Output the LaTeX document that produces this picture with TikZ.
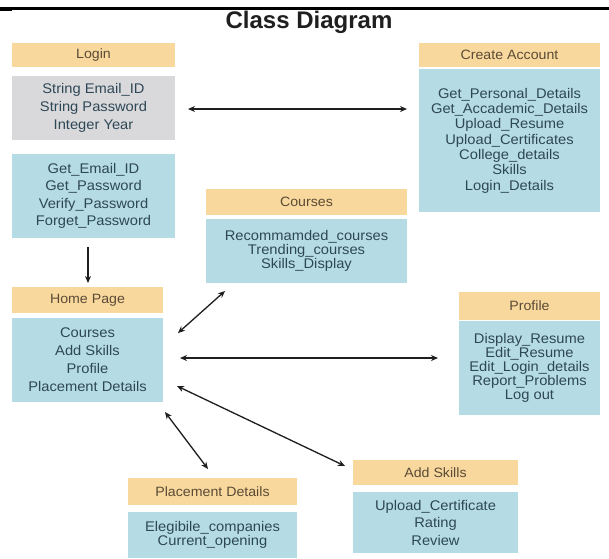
\documentclass[tikz,border=0pt]{standalone}
\usepackage{fontspec}
\setmainfont{Liberation Sans}
\newfontfamily\boxfont[FakeStretch=1.05]{Liberation Sans}
\usetikzlibrary{arrows.meta}
\definecolor{hdrfill}{HTML}{F9D89E}
\definecolor{bodyfill}{HTML}{B5DCE4}
\definecolor{attrfill}{HTML}{D9D9DB}
\definecolor{hdrtext}{HTML}{5A4B35}
\definecolor{bodytext}{HTML}{2E4756}
\definecolor{arrowcol}{HTML}{1E1E1E}
\begin{document}
\begin{tikzpicture}[x=1pt,y=-1pt,
  box/.style={inner sep=0pt, outer sep=0pt, align=center, anchor=center},
  hdr/.style={box, fill=hdrfill, text=hdrtext, font=\boxfont\fontsize{13.5}{16}\selectfont},
  body/.style={box, fill=bodyfill, text=bodytext, font=\boxfont\fontsize{14}{#1}\selectfont},
  attr/.style={box, fill=attrfill, text=bodytext, font=\boxfont\fontsize{14}{#1}\selectfont},
  link/.style={draw=arrowcol, line width=1.3pt, {Stealth[length=7pt,width=6pt]}-{Stealth[length=7pt,width=6pt]}},
  onelink/.style={draw=arrowcol, line width=1.3pt, -{Stealth[length=7pt,width=6pt]}}
]
\useasboundingbox (0,0) rectangle (609,558);
\fill[white] (0,0) rectangle (609,558);
% top rule
\fill[black] (0,6.5) rectangle (609,9.5);
\fill[black] (0,9.5) rectangle (12,11);
% title
\node[anchor=base, text=black!88, font=\bfseries\fontsize{24}{26}\selectfont, inner sep=0pt] (title) at (309,28) {Class Diagram};

% Login
\node[hdr, minimum width=163pt, minimum height=24pt] (loginh) at (93.5,55) {Login};
\node[attr=18, minimum width=163pt, minimum height=64pt] (logina) at (93.5,108) {String Email\_ID\\String Password\\Integer Year};
\node[body=17.3, minimum width=163pt, minimum height=84pt] (loginm) at (93.5,196) {Get\_Email\_ID\\Get\_Password\\Verify\_Password\\Forget\_Password};

% Create Account
\node[hdr, minimum width=181pt, minimum height=24pt] (createh) at (509.5,55) {Create Account};
\node[body=15.3, minimum width=181pt, minimum height=143pt] (createb) at (509.5,140.5) {Get\_Personal\_Details\\Get\_Accademic\_Details\\Upload\_Resume\\Upload\_Certificates\\College\_details\\Skills\\Login\_Details};

% Courses
\node[hdr, minimum width=201pt, minimum height=26pt] (coursesh) at (306.5,202) {Courses};
\node[body=14, minimum width=201pt, minimum height=64pt] (coursesb) at (306.5,251) {Recommamded\_courses\\Trending\_courses\\Skills\_Display};

% Home Page
\node[hdr, minimum width=151pt, minimum height=26pt] (homeh) at (87.5,300) {Home Page};
\node[body=18, minimum width=151pt, minimum height=84pt] (homeb) at (87.5,360) {Courses\\Add Skills\\Profile\\Placement Details};

% Profile
\node[hdr, minimum width=141pt, minimum height=28pt] (profileh) at (529.5,306) {Profile};
\node[body=14, minimum width=141pt, minimum height=94pt] (profileb) at (529.5,368) {Display\_Resume\\Edit\_Resume\\Edit\_Login\_details\\Report\_Problems\\Log out};

% Placement Details
\node[hdr, minimum width=169pt, minimum height=27pt] (placeh) at (212.5,491.5) {Placement Details};
\node[body=14.5, minimum width=169pt, minimum height=46pt] (placeb) at (212.5,535) {Elegibile\_companies\\Current\_opening};

% Add Skills
\node[hdr, minimum width=165pt, minimum height=25pt] (skillh) at (435.5,472.5) {Add Skills};
\node[body=17.5, minimum width=165pt, minimum height=61pt] (skillb) at (435.5,522.5) {Upload\_Certificate\\Rating\\Review};

% connector end points
\coordinate (la) at (188,109);
\coordinate (ca) at (407,109);
\coordinate (lm) at (88,247);
\coordinate (hp) at (88,283);
\coordinate (cb) at (225,291);
\coordinate (hc) at (178,333);
\coordinate (hpr) at (180,358);
\coordinate (pr) at (438,358);
\coordinate (has) at (177,386);
\coordinate (as) at (345,466);
\coordinate (hpl) at (165,412);
\coordinate (pl) at (208,469);

\draw[link] (la) -- (ca);
\draw[onelink] (lm) -- (hp);
\draw[link] (cb) -- (hc);
\draw[link] (hpr) -- (pr);
\draw[link] (has) -- (as);
\draw[link] (hpl) -- (pl);
\end{tikzpicture}
\end{document}
